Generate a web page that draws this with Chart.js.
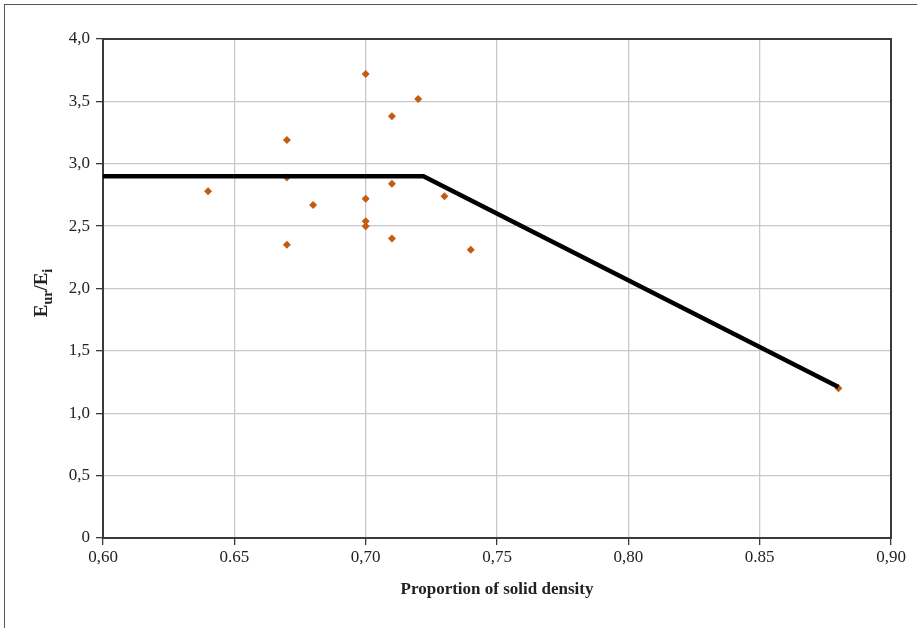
<!DOCTYPE html>
<html>
<head>
<meta charset="utf-8">
<script src="https://cdn.jsdelivr.net/npm/chart.js@4/dist/chart.umd.min.js"></script>
<style>
  html, body { margin: 0; padding: 0; background: #fff; }
  #wrap { position: relative; width: 917px; height: 628px; overflow: hidden; }
  #frame { position: absolute; left: 4px; top: 4px; width: 940px; height: 660px; border: 1.5px solid #555; box-sizing: border-box; pointer-events: none; }
  canvas { position: absolute; left: 0; top: 0; }
</style>
</head>
<body>
<div id="wrap">
  <canvas id="c" width="917" height="628"></canvas>
  <div id="frame"></div>
</div>
<script>
// Measured data
const densityX = [0.64, 0.67, 0.67, 0.67, 0.68, 0.70, 0.70, 0.70, 0.70, 0.71, 0.71, 0.71, 0.72, 0.73, 0.74, 0.88];
const ratioY   = [2.78, 3.19, 2.89, 2.35, 2.67, 3.72, 2.72, 2.54, 2.50, 3.38, 2.84, 2.40, 3.52, 2.74, 2.31, 1.20];
const trendX = [0.60, 0.722, 0.88];
const trendY = [2.90, 2.90, 1.21];
const xTickLabels = {"0.6": "0,60", "0.65": "0.65", "0.7": "0,70", "0.75": "0,75", "0.8": "0,80", "0.85": "0.85", "0.9": "0,90"};
const yTickLabels = {"0": "0", "0.5": "0,5", "1": "1,0", "1.5": "1,5", "2": "2,0", "2.5": "2,5", "3": "3,0", "3.5": "3,5", "4": "4,0"};
const xTitle = "Proportion of solid density";

const serif = "'Liberation Serif', 'DejaVu Serif', serif";

const framePlugin = {
  id: 'framePlugin',
  afterDatasetsDraw(chart) {},
  beforeDatasetsDraw(chart) {
    const {ctx, chartArea: a} = chart;
    ctx.save();
    ctx.strokeStyle = '#3a3a3a';
    ctx.lineWidth = 2;
    ctx.strokeRect(a.left, a.top, a.right - a.left, a.bottom - a.top);
    ctx.restore();
  },
  afterDraw(chart) {
    // y-axis title with subscripts: E_ur / E_i
    const ctx = chart.ctx;
    const a = chart.chartArea;
    ctx.save();
    ctx.translate(47, 293);
    ctx.rotate(-Math.PI / 2);
    ctx.fillStyle = '#222';
    ctx.textBaseline = 'alphabetic';
    const big = "bold 19px " + serif;
    const small = "bold 14px " + serif;
    const parts = [["E", big, 0], ["ur", small, 5], ["/E", big, 0], ["i", small, 5]];
    let w = 0;
    parts.forEach(p => { ctx.font = p[1]; w += ctx.measureText(p[0]).width; });
    let x = -w / 2;
    parts.forEach(p => {
      ctx.font = p[1];
      ctx.fillText(p[0], x, p[2]);
      x += ctx.measureText(p[0]).width;
    });
    ctx.restore();
  }
};

const pts = densityX.map((x, i) => ({x: x, y: ratioY[i]}));
const line = trendX.map((x, i) => ({x: x, y: trendY[i]}));

new Chart(document.getElementById('c'), {
  type: 'scatter',
  data: {
    datasets: [
      {
        label: 'Trend',
        data: line,
        showLine: true,
        borderColor: '#000',
        borderWidth: 4.5,
        pointRadius: 0,
        fill: false,
        order: 1
      },
      {
        label: 'Measured',
        data: pts,
        pointStyle: 'rectRot',
        pointRadius: 4,
        backgroundColor: '#c55a11',
        borderColor: '#c55a11',
        borderWidth: 0,
        order: 2
      }
    ]
  },
  options: {
    responsive: false,
    animation: false,
    devicePixelRatio: 1,
    layout: { padding: { left: 0, right: 26, top: 39, bottom: 0 } },
    plugins: { legend: { display: false }, tooltip: { enabled: false } },
    scales: {
      x: {
        type: 'linear',
        min: 0.6, max: 0.9,
        afterFit(s) { s.height = 90; },
        ticks: {
          stepSize: 0.05,
          color: '#222',
          padding: 2,
          font: { family: serif, size: 17 },
          callback: (v) => xTickLabels[String(Math.round(v * 100) / 100)] ?? ''
        },
        grid: { color: '#c8c8c8', lineWidth: 1.3, drawTicks: true, tickLength: 7, tickColor: '#3a3a3a' },
        border: { display: true, color: '#3a3a3a', width: 2 },
        title: {
          display: true,
          text: xTitle,
          color: '#222',
          font: { family: serif, size: 17, weight: 'bold' },
          padding: { top: 0, bottom: 28 }
        }
      },
      y: {
        type: 'linear',
        min: 0, max: 4,
        afterFit(s) { s.width = 103; },
        ticks: {
          stepSize: 0.5,
          color: '#222',
          padding: 6,
          font: { family: serif, size: 17 },
          callback: (v) => yTickLabels[String(Math.round(v * 10) / 10)] ?? ''
        },
        grid: { color: '#c8c8c8', lineWidth: 1.3, drawTicks: true, tickLength: 7, tickColor: '#3a3a3a' },
        border: { display: true, color: '#3a3a3a', width: 2 },
        title: { display: false }
      }
    }
  },
  plugins: [framePlugin]
});
</script>
</body>
</html>
